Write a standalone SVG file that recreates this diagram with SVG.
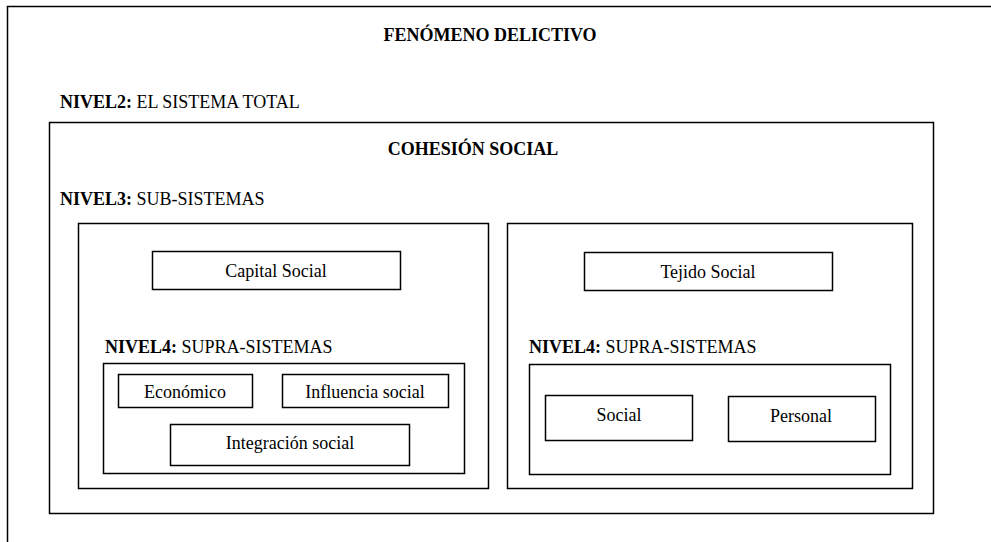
<svg xmlns="http://www.w3.org/2000/svg" width="991" height="542" viewBox="0 0 991 542">
<style>
rect{fill:none;stroke:#000;stroke-width:1.5}
text{font-family:'Liberation Serif','Times New Roman',serif;font-size:18px;fill:#000}
.b{font-weight:bold}
.c{text-anchor:middle}
</style>
<rect x="0" y="0" width="991" height="542" style="fill:#fff;stroke:none"/>
<g id="fenomeno">
<rect x="7.5" y="6.5" width="1000" height="600"/>
<text class="b c" x="490" y="41">FENÓMENO DELICTIVO</text>
<text x="60" y="108"><tspan class="b">NIVEL2:</tspan> EL SISTEMA TOTAL</text>
</g>
<g id="cohesion">
<rect x="49.5" y="122.5" width="884" height="391"/>
<text class="b c" x="473" y="155">COHESIÓN SOCIAL</text>
<text x="60" y="205"><tspan class="b">NIVEL3:</tspan> SUB-SISTEMAS</text>
</g>
<g id="sub-left">
<rect x="78.5" y="223.5" width="410" height="265"/>
</g>
<g id="capital">
<rect x="152.5" y="251.5" width="248" height="38"/>
<text class="c" x="276" y="277">Capital Social</text>
</g>
<g id="supra-left">
<text x="105" y="353"><tspan class="b">NIVEL4:</tspan> SUPRA-SISTEMAS</text>
<rect x="103.5" y="363.5" width="361" height="110"/>
</g>
<g id="economico">
<rect x="118.5" y="374.5" width="134" height="33"/>
<text class="c" x="185" y="398">Económico</text>
</g>
<g id="influencia">
<rect x="282.5" y="374.5" width="166" height="33"/>
<text class="c" x="365" y="398">Influencia social</text>
</g>
<g id="integracion">
<rect x="170.5" y="424.5" width="239" height="41"/>
<text class="c" x="290" y="449">Integración social</text>
</g>
<g id="sub-right">
<rect x="507.5" y="223.5" width="405" height="265"/>
</g>
<g id="tejido">
<rect x="584.5" y="252.5" width="248" height="38"/>
<text class="c" x="708" y="278">Tejido Social</text>
</g>
<g id="supra-right">
<text x="529" y="353"><tspan class="b">NIVEL4:</tspan> SUPRA-SISTEMAS</text>
<rect x="529.5" y="364.5" width="361" height="110"/>
</g>
<g id="social">
<rect x="545.5" y="395.5" width="147" height="45"/>
<text class="c" x="619" y="421">Social</text>
</g>
<g id="personal">
<rect x="728.5" y="396.5" width="147" height="45"/>
<text class="c" x="801" y="422">Personal</text>
</g>
<g id="connectors"></g>
</svg>
